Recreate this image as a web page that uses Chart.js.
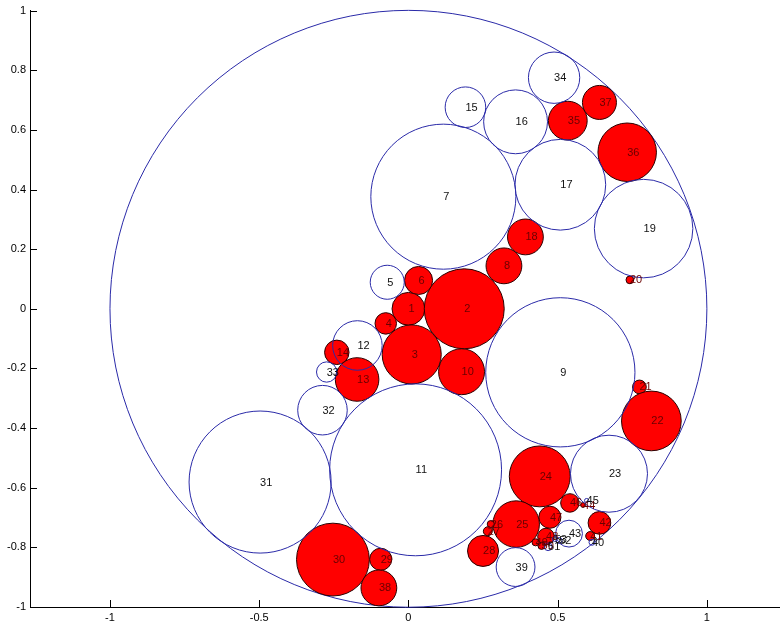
<!DOCTYPE html>
<html>
<head>
<meta charset="utf-8">
<script src="https://cdn.jsdelivr.net/npm/chart.js@4.4.0/dist/chart.umd.min.js"></script>
<style>
  html, body { margin: 0; padding: 0; background: #fff; overflow: hidden; }
  #c { display: block; }
</style>
</head>
<body>
<canvas id="c" width="780" height="623"></canvas>
<script>
// circle packing: centre, radius (data units), red = filled
const CIRCLE_ID = [1, 2, 3, 4, 5, 6, 7, 8, 9, 10,
  11, 12, 13, 14, 15, 16, 17, 18, 19, 20,
  21, 22, 23, 24, 25, 26, 27, 28, 29, 30,
  31, 32, 33, 34, 35, 36, 37, 38, 39, 40,
  41, 42, 43, 44, 45, 46, 47, 48, 49, 50,
  51, 52, 53];
const CIRCLE_X = [0.000, 0.187, 0.011, -0.076, -0.071, 0.034, 0.117, 0.320, 0.509, 0.178,
  0.024, -0.171, -0.172, -0.240, 0.191, 0.359, 0.509, 0.392, 0.788, 0.742,
  0.774, 0.814, 0.672, 0.440, 0.361, 0.276, 0.266, 0.250, -0.093, -0.253,
  -0.497, -0.288, -0.274, 0.488, 0.534, 0.733, 0.640, -0.099, 0.359, 0.615,
  0.609, 0.640, 0.538, 0.585, 0.597, 0.541, 0.474, 0.461, 0.426, 0.446,
  0.468, 0.505, 0.490];
const CIRCLE_Y = [0.000, 0.000, -0.153, -0.049, 0.089, 0.095, 0.376, 0.144, -0.213, -0.211,
  -0.540, -0.123, -0.237, -0.146, 0.676, 0.627, 0.416, 0.241, 0.269, 0.097,
  -0.262, -0.376, -0.553, -0.562, -0.722, -0.722, -0.746, -0.812, -0.840, -0.841,
  -0.581, -0.340, -0.212, 0.775, 0.631, 0.525, 0.692, -0.936, -0.866, -0.783,
  -0.762, -0.718, -0.754, -0.658, -0.643, -0.651, -0.699, -0.764, -0.783, -0.795,
  -0.798, -0.777, -0.772];
const CIRCLE_R = [0.055, 0.134, 0.099, 0.036, 0.057, 0.047, 0.243, 0.060, 0.250, 0.077,
  0.288, 0.083, 0.073, 0.041, 0.068, 0.107, 0.152, 0.060, 0.165, 0.013,
  0.023, 0.100, 0.129, 0.102, 0.078, 0.012, 0.015, 0.052, 0.037, 0.122,
  0.238, 0.083, 0.034, 0.086, 0.065, 0.098, 0.057, 0.060, 0.065, 0.010,
  0.015, 0.038, 0.045, 0.008, 0.007, 0.031, 0.037, 0.028, 0.012, 0.012,
  0.013, 0.010, 0.008];
const CIRCLE_RED = [1, 1, 1, 1, 0, 1, 0, 1, 0, 1,
  0, 0, 1, 1, 0, 0, 0, 1, 0, 1,
  1, 1, 0, 1, 1, 1, 1, 1, 1, 1,
  0, 0, 0, 0, 1, 1, 1, 1, 0, 0,
  1, 1, 0, 1, 0, 1, 1, 1, 1, 1,
  0, 0, 0];

// enclosing unit circle
const OUTER_X = [0];
const OUTER_Y = [0];
const OUTER_R = [1];

const X_TICKS = [-1, -0.5, 0, 0.5, 1];
const Y_TICKS = [-1, -0.8, -0.6, -0.4, -0.2, 0, 0.2, 0.4, 0.6, 0.8, 1];

const BLUE = "#2a2aa8";
const RED = "#ff0000";

Chart.defaults.font.family = '"Liberation Sans", Arial, Helvetica, sans-serif';
Chart.defaults.font.size = 11;
Chart.defaults.color = "#000";

const points = (red) =>
  CIRCLE_ID.map((id, i) => ({ x: CIRCLE_X[i], y: CIRCLE_Y[i], rad: CIRCLE_R[i], id, red: CIRCLE_RED[i] }))
    .filter((p) => p.red === red);

// radius in data units -> pixels via the x scale
const pxRadius = (ctx) => {
  const s = ctx.chart.scales.x;
  const r = ctx.raw ? ctx.raw.rad : 0;
  return Math.abs(s.getPixelForValue(r) - s.getPixelForValue(0));
};

const inwardTicks = {
  id: "inwardTicks",
  afterDraw(chart) {
    const { ctx, chartArea: a, scales: { x, y } } = chart;
    ctx.save();
    ctx.strokeStyle = "#000";
    ctx.lineWidth = 1;
    ctx.beginPath();
    for (const t of x.ticks) {
      const px = Math.round(x.getPixelForValue(t.value)) + 0.5;
      ctx.moveTo(px, a.bottom);
      ctx.lineTo(px, a.bottom - 7);
    }
    for (const t of y.ticks) {
      const py = Math.round(y.getPixelForValue(t.value)) + 0.5;
      ctx.moveTo(a.left, py);
      ctx.lineTo(a.left + 7, py);
    }
    ctx.stroke();
    ctx.restore();
  },
};

// numbers left-aligned at each centre (matlab text default)
const circleLabels = {
  id: "circleLabels",
  afterDatasetsDraw(chart) {
    const { ctx, scales: { x, y } } = chart;
    ctx.save();
    ctx.font = '11px "Liberation Sans", Arial, sans-serif';
    ctx.textAlign = "left";
    ctx.textBaseline = "middle";
    CIRCLE_ID.forEach((id, i) => {
      ctx.fillStyle = CIRCLE_RED[i] ? "#6a0000" : "#111";
      ctx.fillText(String(id), x.getPixelForValue(CIRCLE_X[i]), y.getPixelForValue(CIRCLE_Y[i]) + 0.5);
    });
    ctx.restore();
  },
};

new Chart(document.getElementById("c").getContext("2d"), {
  type: "scatter",
  data: {
    datasets: [
      {
        label: "open",
        data: points(0),
        order: 1,
        backgroundColor: "rgba(0,0,0,0)",
        borderColor: BLUE,
        borderWidth: 1,
        pointRadius: pxRadius,
        clip: false,
      },
      {
        label: "filled",
        data: points(1),
        order: 2,
        backgroundColor: RED,
        borderColor: "#2a0000",
        borderWidth: 1,
        pointRadius: pxRadius,
        clip: false,
      },
      {
        label: "outer",
        data: OUTER_X.map((v, i) => ({ x: v, y: OUTER_Y[i], rad: OUTER_R[i] })),
        order: 3,
        backgroundColor: "rgba(0,0,0,0)",
        borderColor: BLUE,
        borderWidth: 1,
        pointRadius: pxRadius,
        clip: false,
      },
    ],
  },
  options: {
    responsive: false,
    animation: false,
    events: [],
    devicePixelRatio: 1,
    layout: { padding: { top: 9, left: 0, right: 0, bottom: 0 } },
    plugins: { legend: { display: false }, tooltip: { enabled: false } },
    scales: {
      x: {
        type: "linear",
        min: -1.268,
        max: 1.245,
        afterBuildTicks: (s) => { s.ticks = X_TICKS.map((v) => ({ value: v })); },
        afterFit: (s) => { s.height = 16; },
        ticks: { padding: 4, maxRotation: 0, autoSkip: false, callback: (v) => String(v) },
        grid: { display: false, drawTicks: false },
        border: { display: true, color: "#000", width: 1 },
      },
      y: {
        type: "linear",
        min: -1,
        max: 1,
        afterBuildTicks: (s) => { s.ticks = Y_TICKS.map((v) => ({ value: v })); },
        afterFit: (s) => { s.width = 30; },
        ticks: { padding: 4, autoSkip: false, callback: (v) => String(v) },
        grid: { display: false, drawTicks: false },
        border: { display: true, color: "#000", width: 1 },
      },
    },
  },
  plugins: [inwardTicks, circleLabels],
});
</script>
</body>
</html>
